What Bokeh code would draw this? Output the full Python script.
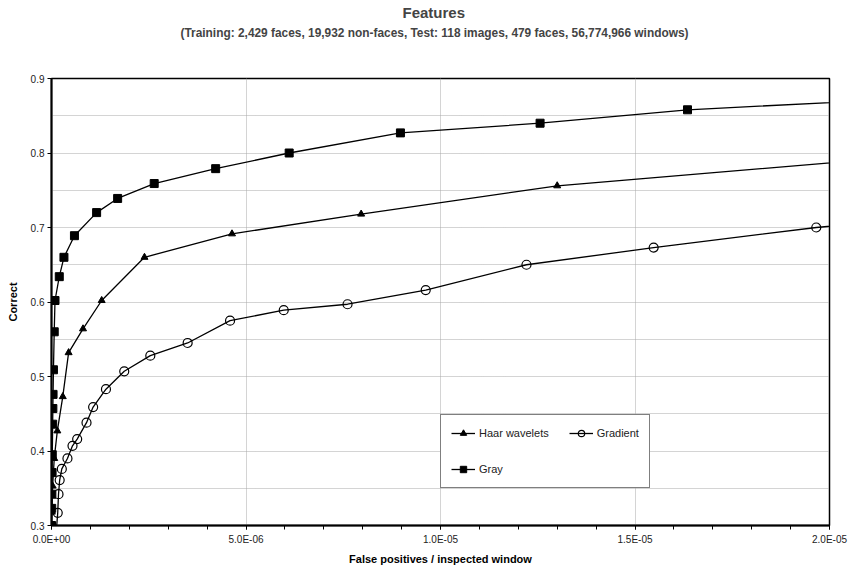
from bokeh.plotting import figure
from bokeh.models import (Range1d, FixedTicker, CustomJSTickFormatter, Legend,
                          LegendItem, Title)
from bokeh.embed import file_html
from bokeh.resources import INLINE

# ---- data ----
haar_x = [0.0, 0.01e-6, 0.03e-6, 0.07e-6, 0.15e-6, 0.29e-6, 0.44e-6, 0.81e-6, 1.29e-6,
          2.39e-6, 4.64e-6, 7.96e-6, 13.0e-6, 22.0e-6]
haar_y = [0.300, 0.318, 0.353, 0.390, 0.427, 0.473, 0.532, 0.564, 0.602,
          0.660, 0.6915, 0.718, 0.756, 0.7955]

grad_x = [0.12e-6, 0.16e-6, 0.18e-6, 0.21e-6, 0.265e-6, 0.41e-6, 0.54e-6, 0.66e-6,
          0.90e-6, 1.07e-6, 1.40e-6, 1.87e-6, 2.54e-6, 3.50e-6, 4.59e-6, 5.97e-6,
          7.61e-6, 9.62e-6, 12.21e-6, 15.48e-6, 19.66e-6, 21.0e-6]
grad_y = [0.290, 0.317, 0.342, 0.361, 0.376, 0.390, 0.407, 0.416,
          0.438, 0.459, 0.483, 0.507, 0.528, 0.545, 0.575, 0.589,
          0.597, 0.616, 0.650, 0.673, 0.700, 0.7065]

gray_x = [0.0, 0.005e-6, 0.01e-6, 0.015e-6, 0.02e-6, 0.03e-6, 0.035e-6, 0.04e-6,
          0.05e-6, 0.07e-6, 0.09e-6, 0.20e-6, 0.32e-6, 0.59e-6, 1.16e-6, 1.70e-6,
          2.64e-6, 4.22e-6, 6.11e-6, 8.97e-6, 12.56e-6, 16.35e-6, 22.0e-6]
gray_y = [0.300, 0.323, 0.342, 0.371, 0.395, 0.436, 0.457, 0.476,
          0.509, 0.560, 0.602, 0.634, 0.660, 0.689, 0.720, 0.739,
          0.759, 0.779, 0.800, 0.827, 0.840, 0.858, 0.873]

series_names = ["Haar wavelets", "Gradient", "Gray"]

x_ticks = [0.0, 5e-6, 1e-5, 1.5e-5, 2e-5]
x_tick_labels = ["0.0E+00", "5.0E-06", "1.0E-05", "1.5E-05", "2.0E-05"]
y_ticks = [0.3, 0.4, 0.5, 0.6, 0.7, 0.8, 0.9]
y_tick_labels = ["0.3", "0.4", "0.5", "0.6", "0.7", "0.8", "0.9"]

title_text = "Features"
subtitle_text = "(Training:  2,429 faces, 19,932 non-faces, Test: 118 images, 479 faces, 56,774,966 windows)"
x_label = "False positives / inspected window"
y_label = "Correct"

FONT = "Liberation Sans"

p = figure(width=848, height=567, output_backend="svg", toolbar_location=None,
           x_range=Range1d(0, 2e-5), y_range=Range1d(0.3, 0.9),
           min_border_left=51, min_border_right=19, min_border_top=40,
           min_border_bottom=41, background_fill_color="white",
           border_fill_color="white")

p.outline_line_color = "black"
p.outline_line_width = 1.5

# stacked above the frame: first added is closest to the frame
spacer = Title(text=" ", text_font=FONT, text_font_size="10px", standoff=24)
sub = Title(text=subtitle_text, align="left", offset=129, text_font=FONT,
            text_font_size="11.9px", text_font_style="bold", standoff=4)
ttl = Title(text=title_text, align="left", offset=351, text_font=FONT,
            text_font_size="15px", text_font_style="bold", standoff=2)
p.add_layout(spacer, "above")
p.add_layout(sub, "above")
p.add_layout(ttl, "above")

fmt_js = """
for (let i = 0; i < tks.length; i++) {
  if (Math.abs(tick - tks[i]) < 1e-12) { return lbls[i]; }
}
return "";
"""
p.xaxis.ticker = FixedTicker(ticks=x_ticks,
                             minor_ticks=[i * 1e-6 for i in range(0, 21)])
p.xaxis.formatter = CustomJSTickFormatter(args=dict(tks=x_ticks, lbls=x_tick_labels), code=fmt_js)
p.yaxis.ticker = FixedTicker(ticks=y_ticks,
                             minor_ticks=[0.35, 0.45, 0.55, 0.65, 0.75, 0.85])
p.yaxis.formatter = CustomJSTickFormatter(args=dict(tks=y_ticks, lbls=y_tick_labels), code=fmt_js)

for ax in (p.xaxis[0], p.yaxis[0]):
    ax.axis_line_width = 2
    ax.axis_line_color = "black"
    ax.major_tick_line_color = "black"
    ax.minor_tick_line_color = "black"
    ax.major_tick_in = 0
    ax.major_tick_out = 4
    ax.minor_tick_in = 0
    ax.major_label_text_font = FONT
    ax.major_label_text_font_size = "10px"
    ax.major_label_text_color = "#222222"
    ax.axis_label_text_font = FONT
    ax.axis_label_text_font_size = "11px"
    ax.axis_label_text_font_style = "bold"
    ax.axis_label_text_color = "black"

p.xaxis.minor_tick_out = 4
p.yaxis.minor_tick_out = 0
p.xaxis.major_label_standoff = 4
p.xaxis.axis_label = x_label
p.xaxis.axis_label_standoff = 5
p.yaxis.major_label_standoff = 3
p.yaxis.axis_label = y_label
p.yaxis.axis_label_standoff = 9

p.xgrid.grid_line_color = "#a8a8a8"
p.xgrid.grid_line_dash = "1 1"
p.xgrid.grid_line_width = 1
p.ygrid.grid_line_color = "#a8a8a8"
p.ygrid.grid_line_dash = "1 1"
p.ygrid.minor_grid_line_color = "#a8a8a8"
p.ygrid.minor_grid_line_dash = "1 1"

lw = 1.3
l_haar = p.line(haar_x, haar_y, line_color="black", line_width=lw)
m_haar = p.scatter(haar_x, haar_y, marker="triangle", size=7, fill_color="black",
                   line_color="black")
l_grad = p.line(grad_x, grad_y, line_color="black", line_width=lw)
m_grad = p.scatter(grad_x, grad_y, marker="circle", size=9, fill_alpha=0,
                   line_color="black", line_width=1.2)
l_gray = p.line(gray_x, gray_y, line_color="black", line_width=lw)
m_gray = p.scatter(gray_x, gray_y, marker="square", size=8, fill_color="black",
                   line_color="black")

legend = Legend(items=[
    LegendItem(label=series_names[0], renderers=[l_haar, m_haar]),
    LegendItem(label=series_names[1], renderers=[l_grad, m_grad]),
    LegendItem(label=series_names[2], renderers=[l_gray, m_gray]),
], orientation="horizontal", ncols=2, location=(389, 37))
legend.label_text_font = FONT
legend.label_text_font_size = "11px"
legend.label_text_color = "#222222"
legend.glyph_width = 24
legend.glyph_height = 16
legend.label_height = 16
legend.label_standoff = 4
legend.spacing = 20
legend.padding = 10
legend.margin = 0
legend.border_line_color = "black"
legend.border_line_width = 1.2
legend.background_fill_color = "white"
legend.background_fill_alpha = 1
p.add_layout(legend, "center")

open("out.html", "w").write(file_html(p, INLINE))
